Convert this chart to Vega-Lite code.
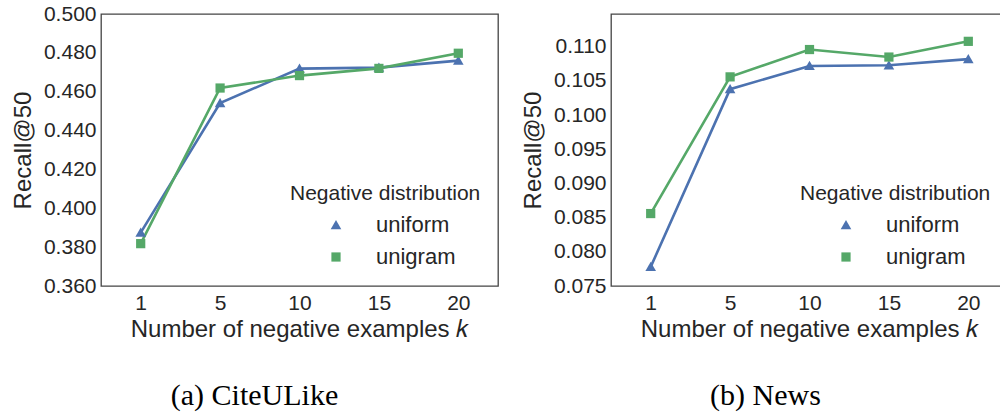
{
  "$schema": "https://vega.github.io/schema/vega-lite/v6.json",
  "background": "white",
  "padding": {"left": 10, "top": 2, "right": 0, "bottom": 0},
  "config": {
    "font": "Liberation Sans",
    "view": {"stroke": "#444444", "strokeWidth": 1.3},
    "axis": {
      "domain": false,
      "ticks": false,
      "grid": false,
      "labelFont": "Liberation Sans",
      "labelFontSize": 21,
      "labelColor": "#262626",
      "titleFont": "Liberation Sans",
      "titleFontSize": 24,
      "titleFontWeight": "normal",
      "titleColor": "#262626"
    },
    "legend": {
      "titleFont": "Liberation Sans",
      "titleFontSize": 21,
      "titleFontWeight": "normal",
      "titleColor": "#262626",
      "titleLimit": 400,
      "labelFont": "Liberation Sans",
      "labelFontSize": 22,
      "labelColor": "#262626"
    },
    "title": {
      "font": "Liberation Serif",
      "fontSize": 30,
      "fontWeight": "normal",
      "color": "#000000"
    }
  },
  "datasets": {
    "citeulike": [
      {"k": 1, "dist": "uniform", "recall": 0.3875},
      {"k": 5, "dist": "uniform", "recall": 0.4542},
      {"k": 10, "dist": "uniform", "recall": 0.4719},
      {"k": 15, "dist": "uniform", "recall": 0.4724},
      {"k": 20, "dist": "uniform", "recall": 0.4760},
      {"k": 1, "dist": "unigram", "recall": 0.3818},
      {"k": 5, "dist": "unigram", "recall": 0.4619},
      {"k": 10, "dist": "unigram", "recall": 0.4683},
      {"k": 15, "dist": "unigram", "recall": 0.4720},
      {"k": 20, "dist": "unigram", "recall": 0.4798}
    ],
    "news": [
      {"k": 1, "dist": "uniform", "recall": 0.0778},
      {"k": 5, "dist": "uniform", "recall": 0.1038},
      {"k": 10, "dist": "uniform", "recall": 0.1072},
      {"k": 15, "dist": "uniform", "recall": 0.1073},
      {"k": 20, "dist": "uniform", "recall": 0.1082},
      {"k": 1, "dist": "unigram", "recall": 0.0856},
      {"k": 5, "dist": "unigram", "recall": 0.1056},
      {"k": 10, "dist": "unigram", "recall": 0.1096},
      {"k": 15, "dist": "unigram", "recall": 0.1085},
      {"k": 20, "dist": "unigram", "recall": 0.1108}
    ]
  },
  "bounds": "flush",
  "spacing": 113,
  "hconcat": [
    {
      "width": 397,
      "height": 272,
      "title": {"text": "(a) CiteULike", "orient": "bottom", "offset": 40, "dx": -45},
      "data": {"name": "citeulike"},
      "encoding": {
        "x": {
          "field": "k", "type": "ordinal", "sort": [1, 5, 10, 15, 20],
          "scale": {"type": "point", "padding": 0.5},
          "axis": {"title": "Number of negative examples 𝑘", "labelAngle": 0, "labelPadding": 6, "titlePadding": 4}
        },
        "y": {
          "field": "recall", "type": "quantitative",
          "scale": {"domain": [0.36, 0.5], "nice": false, "zero": false},
          "axis": {"title": "Recall@50", "values": [0.36, 0.38, 0.4, 0.42, 0.44, 0.46, 0.48, 0.5], "format": ".3f", "labelPadding": 5, "titlePadding": 8}
        },
        "color": {
          "field": "dist", "type": "nominal", "title": "Negative distribution",
          "scale": {"domain": ["uniform", "unigram"], "range": ["#4c72b0", "#55a868"]},
          "legend": {"orient": "none", "legendX": 189, "legendY": 169, "symbolOffset": 35, "labelOffset": 29, "rowPadding": 10, "titlePadding": 10, "symbolSize": 85, "symbolStrokeWidth": 0}
        },
        "shape": {
          "field": "dist", "type": "nominal", "title": "Negative distribution",
          "scale": {"domain": ["uniform", "unigram"], "range": ["M0,-1.1L1.15,0.9L-1.15,0.9Z", "square"]}
        }
      },
      "layer": [
        {"mark": {"type": "line", "strokeWidth": 2.6}},
        {"mark": {"type": "point", "filled": true, "size": 85, "opacity": 1}}
      ]
    },
    {
      "width": 397,
      "height": 272,
      "title": {"text": "(b) News", "orient": "bottom", "offset": 40, "dx": -44},
      "data": {"name": "news"},
      "encoding": {
        "x": {
          "field": "k", "type": "ordinal", "sort": [1, 5, 10, 15, 20],
          "scale": {"type": "point", "padding": 0.5},
          "axis": {"title": "Number of negative examples 𝑘", "labelAngle": 0, "labelPadding": 6, "titlePadding": 4}
        },
        "y": {
          "field": "recall", "type": "quantitative",
          "scale": {"domain": [0.075, 0.1148], "nice": false, "zero": false},
          "axis": {"title": "Recall@50", "values": [0.075, 0.08, 0.085, 0.09, 0.095, 0.1, 0.105, 0.11], "format": ".3f", "labelPadding": 5, "titlePadding": 8}
        },
        "color": {
          "field": "dist", "type": "nominal", "title": "Negative distribution",
          "scale": {"domain": ["uniform", "unigram"], "range": ["#4c72b0", "#55a868"]},
          "legend": {"orient": "none", "legendX": 189, "legendY": 169, "symbolOffset": 35, "labelOffset": 29, "rowPadding": 10, "titlePadding": 10, "symbolSize": 85, "symbolStrokeWidth": 0}
        },
        "shape": {
          "field": "dist", "type": "nominal", "title": "Negative distribution",
          "scale": {"domain": ["uniform", "unigram"], "range": ["M0,-1.1L1.15,0.9L-1.15,0.9Z", "square"]}
        }
      },
      "layer": [
        {"mark": {"type": "line", "strokeWidth": 2.6}},
        {"mark": {"type": "point", "filled": true, "size": 85, "opacity": 1}}
      ]
    }
  ],
  "resolve": {"scale": {"color": "independent", "shape": "independent", "y": "independent", "x": "independent"}}
}
